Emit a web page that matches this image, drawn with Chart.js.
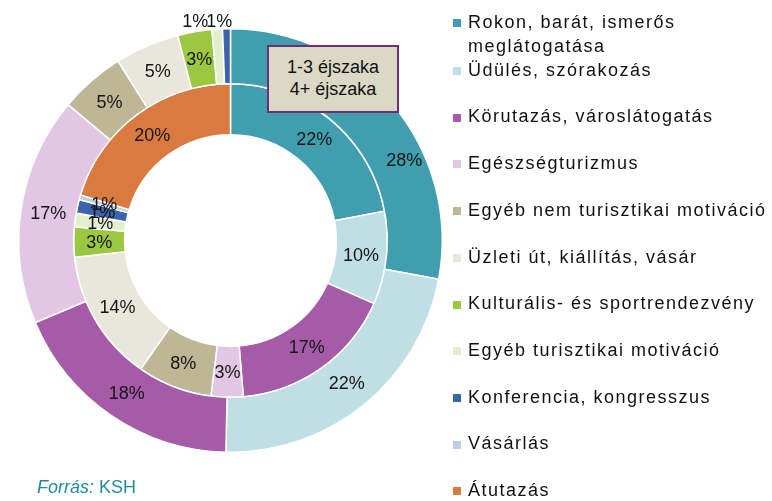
<!DOCTYPE html>
<html>
<head>
<meta charset="utf-8">
<script src="https://cdn.jsdelivr.net/npm/chart.js@4.4.1/dist/chart.umd.min.js"></script>
<style>
  html, body { margin: 0; padding: 0; background: #ffffff; }
  #wrap { position: relative; width: 772px; height: 501px; overflow: hidden; font-family: "Liberation Sans", Arial, sans-serif; }
  #chartBox { position: absolute; left: 0; top: 0; width: 772px; height: 501px; }
  #legend { position: absolute; left: 0; top: 0; }
  .lg-sq { position: absolute; left: 453px; width: 8px; height: 8px; }
  .lg-tx { position: absolute; left: 468px; font-size: 18px; line-height: 24px; letter-spacing: 1.5px; color: #111; white-space: nowrap; }
  #nightBox { position: absolute; left: 267px; top: 45px; width: 128px; height: 64px; border: 2px solid #6e2f78; background: #dcd8c6; text-align: center; font-size: 18px; line-height: 22px; color: #111; }
  #nightBox div { position: relative; top: 9px; }
  #source { position: absolute; left: 37px; top: 475px; font-size: 18px; line-height: 24px; color: #1e8c9c; }
</style>
</head>
<body>
<div id="wrap">
  <div id="chartBox"><canvas id="c"></canvas></div>
  <div id="legend"></div>
  <div id="nightBox"><div>1-3 éjszaka<br>4+ éjszaka</div></div>
  <div id="source"><i>Forrás:</i> KSH</div>
</div>
<script>
// Categories (motivation)
const categories = [
  "Rokon, barát, ismerős meglátogatása",
  "Üdülés, szórakozás",
  "Körutazás, városlátogatás",
  "Egészségturizmus",
  "Egyéb nem turisztikai motiváció",
  "Üzleti út, kiállítás, vásár",
  "Kulturális- és sportrendezvény",
  "Egyéb turisztikai motiváció",
  "Konferencia, kongresszus",
  "Vásárlás",
  "Átutazás"
];
// Legend text lines (first item wraps in the original)
const legendLines = [
  ["Rokon, barát, ismerős", "meglátogatása"],
  ["Üdülés, szórakozás"],
  ["Körutazás, városlátogatás"],
  ["Egészségturizmus"],
  ["Egyéb nem turisztikai motiváció"],
  ["Üzleti út, kiállítás, vásár"],
  ["Kulturális- és sportrendezvény"],
  ["Egyéb turisztikai motiváció"],
  ["Konferencia, kongresszus"],
  ["Vásárlás"],
  ["Átutazás"]
];
// Series values (%), outer ring = 4+ éjszaka, inner ring = 1-3 éjszaka
const nights4plus = [27.9, 22.4, 18.3, 17.4, 5.0, 4.9, 2.6, 0.8, 0.6, 0, 0];
const nights1to3  = [22.0, 9.6, 17.1, 3.3, 7.7, 13.6, 3.1, 1.4, 1.4, 0.5, 20.3];
const seriesNames = ["4+ éjszaka", "1-3 éjszaka"];

const colors = [
  "#409eae", "#c0dfe4", "#a65ba8", "#e3c6e3", "#bdb796", "#e9e7dc",
  "#9bc741", "#e1efcf", "#3b64ad", "#bccde6", "#d97b40"
];

// HTML legend
const legendEl = document.getElementById('legend');
const firstBaseline = 28, secondBaseline = 76, step = 46.7;
categories.forEach((cat, i) => {
  const base = i === 0 ? firstBaseline : secondBaseline + (i - 1) * step;
  const sq = document.createElement('div');
  sq.className = 'lg-sq';
  sq.style.top = (base - 9) + 'px';
  sq.style.background = colors[i];
  legendEl.appendChild(sq);
  const tx = document.createElement('div');
  tx.className = 'lg-tx';
  tx.style.top = (base - 18.25) + 'px';
  tx.innerHTML = legendLines[i].join('<br>');
  legendEl.appendChild(tx);
});

// manual label nudges (the outer 28% label sits lower, clear of the box)
const labelNudges = { '0-0': { dx: 32, dy: 37 } };

const labelPlugin = {
  id: 'sliceLabels',
  afterDatasetsDraw(chart) {
    const ctx = chart.ctx;
    ctx.save();
    ctx.font = '18px "Liberation Sans", Arial, sans-serif';
    ctx.fillStyle = '#161616';
    ctx.textBaseline = 'middle';
    chart.data.datasets.forEach((ds, di) => {
      const meta = chart.getDatasetMeta(di);
      const outside = [];
      meta.data.forEach((arc, i) => {
        const v = ds.data[i];
        if (!v) return;
        const txt = Math.round(v) + '%';
        const p = arc.getProps(['x', 'y', 'startAngle', 'endAngle', 'innerRadius', 'outerRadius'], true);
        const mid = (p.startAngle + p.endAngle) / 2;
        if (di === 0 && v < 2) {
          outside.push({ txt, mid, p });
          return;
        }
        const r = (p.innerRadius + p.outerRadius) / 2;
        const n = labelNudges[di + '-' + i] || { dx: 0, dy: 0 };
        ctx.textAlign = 'center';
        ctx.fillText(txt, p.x + Math.cos(mid) * r + n.dx, p.y + Math.sin(mid) * r + 1 + n.dy);
      });
      // small outer slices: labels placed just outside the ring, stacked leftwards
      outside.sort((a, b) => b.mid - a.mid);
      let rightEdge = null;
      outside.forEach(o => {
        const r = o.p.outerRadius + 7;
        const px = o.p.x + Math.cos(o.mid) * r;
        const py = o.p.y + Math.sin(o.mid) * r;
        const x = rightEdge === null ? px + 6 : rightEdge + 2;
        ctx.textAlign = 'right';
        ctx.fillText(o.txt, x, py);
        rightEdge = x - ctx.measureText(o.txt).width;
      });
    });
    ctx.restore();
  }
};

new Chart(document.getElementById('c'), {
  type: 'doughnut',
  data: {
    labels: categories,
    datasets: [
      { label: seriesNames[0], data: nights4plus, backgroundColor: colors, borderColor: '#ffffff', borderWidth: 1.5, weight: 55, hoverOffset: 0 },
      { label: seriesNames[1], data: nights1to3, backgroundColor: colors, borderColor: '#ffffff', borderWidth: 1.5, weight: 51, hoverOffset: 0 }
    ]
  },
  options: {
    responsive: true,
    maintainAspectRatio: false,
    animation: false,
    cutout: '50%',
    layout: { padding: { left: 18, right: 329, top: 28, bottom: 48 } },
    plugins: {
      legend: { display: false },
      tooltip: { enabled: false }
    }
  },
  plugins: [labelPlugin]
});
</script>
</body>
</html>
